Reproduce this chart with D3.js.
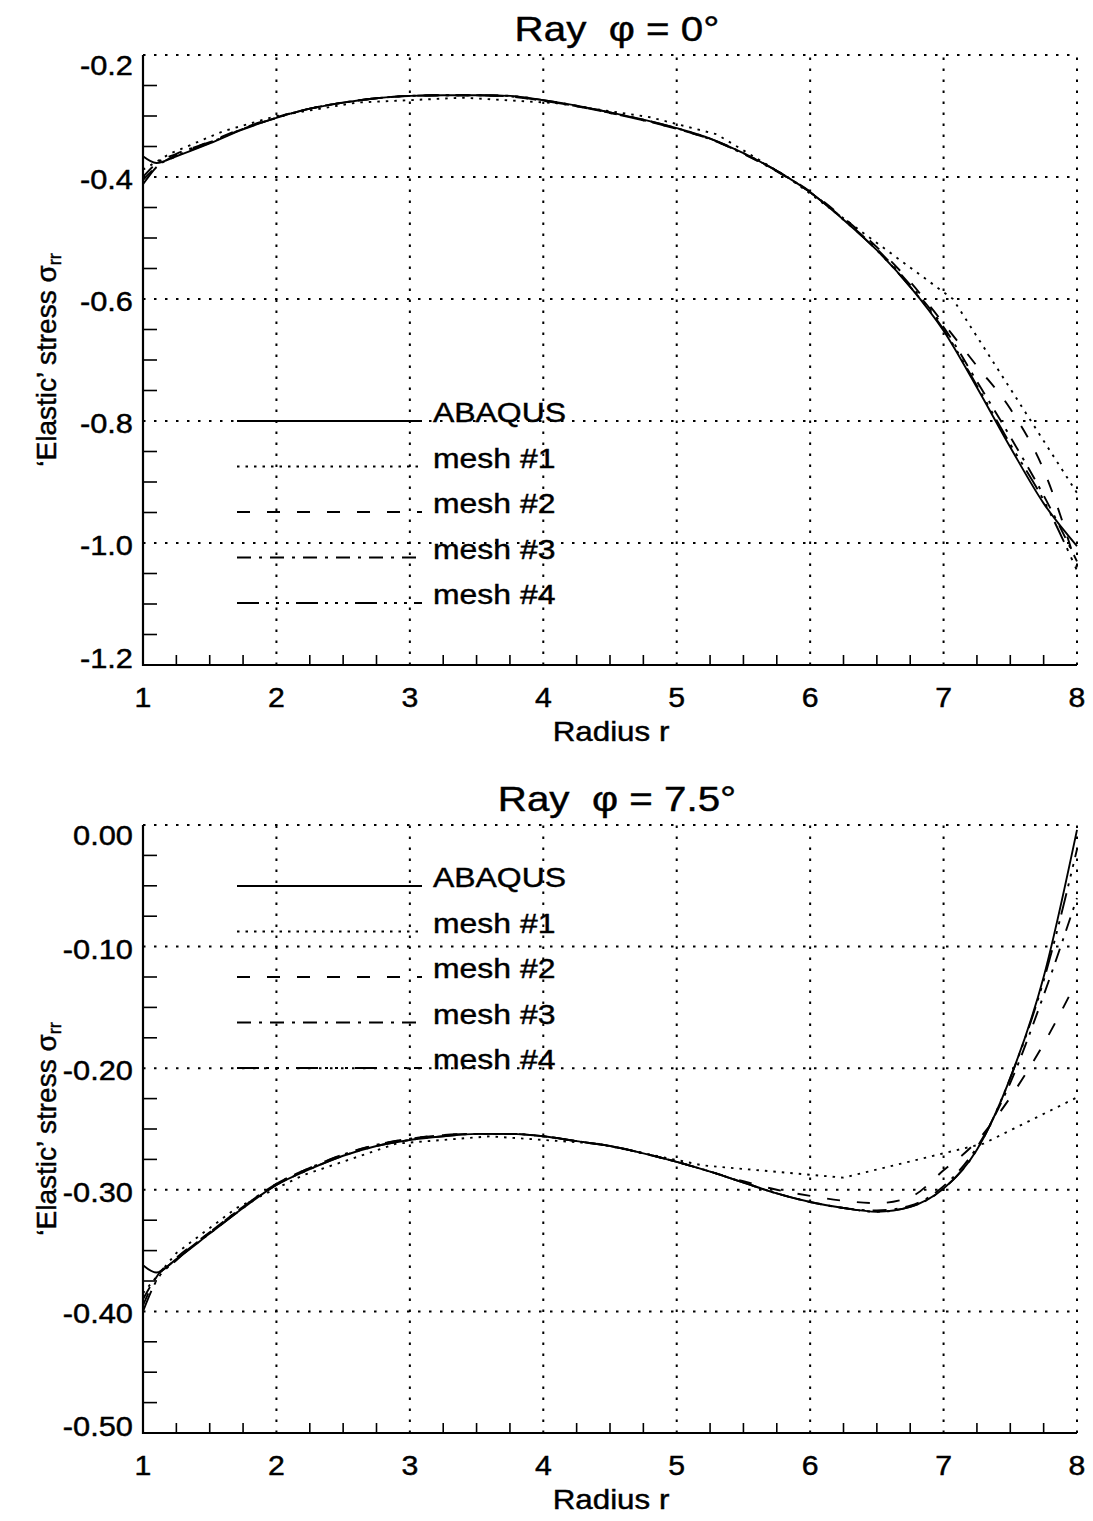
<!DOCTYPE html>
<html>
<head>
<meta charset="utf-8">
<script src="https://d3js.org/d3.v7.min.js"></script>
<style>
  body { margin: 0; background: #fff; }
  svg { display: block; font-family: "Liberation Sans", Arial, Helvetica, sans-serif; }
  .curve { fill: none; stroke: #000; stroke-width: 1.9; stroke-linejoin: round; }
  .grid { stroke: #000; stroke-width: 2; stroke-dasharray: 2.5 8.5; fill: none; }
  .axis-line { stroke: #000; stroke-width: 2.2; }
  .minor { stroke: #000; stroke-width: 1.6; }
  text { fill: #000; stroke: #000; stroke-width: 0.45; }
</style>
</head>
<body>
<svg id="chart" width="1093" height="1521"></svg>
<script>
// radius grid shared by the smooth series
const radius = [1, 1.1, 1.25, 1.5, 1.75, 2, 2.25, 2.5, 2.75, 3, 3.25, 3.5, 3.75, 4, 4.25, 4.5,
                4.75, 5, 5.25, 5.5, 5.75, 6, 6.25, 6.5, 6.75, 7, 7.25, 7.5, 7.75, 8];

// ---- Ray phi = 0 ----
const top_abaqus = [-0.366,-0.377,-0.366,-0.345,-0.322,-0.303,-0.288,-0.278,-0.271,-0.267,-0.266,-0.266,-0.267,-0.274,-0.283,-0.294,
                    -0.306,-0.320,-0.337,-0.361,-0.390,-0.425,-0.470,-0.520,-0.580,-0.652,-0.745,-0.843,-0.935,-1.005];
const top_mesh2  = [-0.405,-0.383,-0.364,-0.342,-0.320,-0.302,-0.288,-0.278,-0.271,-0.267,-0.266,-0.266,-0.268,-0.275,-0.284,-0.295,
                    -0.307,-0.321,-0.338,-0.362,-0.390,-0.424,-0.467,-0.515,-0.572,-0.640,-0.710,-0.780,-0.880,-1.040];
const top_mesh3  = [-0.400,-0.378,-0.362,-0.343,-0.321,-0.303,-0.288,-0.278,-0.271,-0.267,-0.266,-0.266,-0.268,-0.275,-0.284,-0.295,
                    -0.307,-0.321,-0.338,-0.362,-0.391,-0.425,-0.469,-0.518,-0.577,-0.646,-0.735,-0.826,-0.922,-1.030];
const top_mesh4  = [-0.412,-0.384,-0.366,-0.344,-0.321,-0.303,-0.288,-0.278,-0.271,-0.267,-0.266,-0.266,-0.267,-0.274,-0.283,-0.294,
                    -0.306,-0.320,-0.337,-0.361,-0.390,-0.425,-0.470,-0.520,-0.580,-0.650,-0.742,-0.838,-0.930,-1.045];
// coarse mesh #1 (its own nodes, straight segments)
const top_mesh1_r = [1, 1.2, 1.6, 2, 2.6, 3.4, 4.1, 4.8, 5.3, 5.83, 7.07, 8];
const top_mesh1   = [-0.388,-0.362,-0.325,-0.300,-0.278,-0.270,-0.279,-0.302,-0.330,-0.400,-0.600,-0.918];

// ---- Ray phi = 7.5 ----
const bot_abaqus = [-0.362,-0.368,-0.357,-0.336,-0.315,-0.296,-0.283,-0.272,-0.264,-0.259,-0.256,-0.254,-0.254,-0.256,-0.260,-0.264,
                    -0.270,-0.277,-0.285,-0.294,-0.303,-0.310,-0.315,-0.318,-0.314,-0.299,-0.267,-0.208,-0.125,-0.004];
const bot_mesh2  = [-0.395,-0.372,-0.356,-0.335,-0.314,-0.295,-0.282,-0.271,-0.263,-0.258,-0.255,-0.254,-0.254,-0.256,-0.260,-0.264,
                    -0.270,-0.277,-0.285,-0.293,-0.300,-0.305,-0.309,-0.311,-0.306,-0.284,-0.260,-0.224,-0.180,-0.128];
const bot_mesh3  = [-0.390,-0.372,-0.357,-0.335,-0.314,-0.295,-0.282,-0.271,-0.263,-0.258,-0.255,-0.254,-0.254,-0.256,-0.260,-0.264,
                    -0.270,-0.277,-0.285,-0.294,-0.303,-0.310,-0.315,-0.317,-0.313,-0.297,-0.265,-0.212,-0.140,-0.060];
const bot_mesh4  = [-0.400,-0.375,-0.358,-0.336,-0.315,-0.296,-0.283,-0.272,-0.264,-0.259,-0.256,-0.254,-0.254,-0.256,-0.260,-0.264,
                    -0.270,-0.277,-0.285,-0.294,-0.303,-0.310,-0.315,-0.318,-0.314,-0.299,-0.267,-0.208,-0.128,-0.020];
const bot_mesh1_r = [1, 1.25, 1.7, 2.2, 2.9, 3.6, 4.4, 5.2, 6.25, 7.3, 8];
const bot_mesh1   = [-0.385,-0.352,-0.315,-0.288,-0.262,-0.256,-0.262,-0.280,-0.290,-0.262,-0.224];

const seriesNames = ["ABAQUS", "mesh #1", "mesh #2", "mesh #3", "mesh #4"];
const dashes = [null, "2.5 6", "13 17", "14 8 3 8", "22 7 3 7 3 7 3 7"];

const xTicks = [1, 2, 3, 4, 5, 6, 7, 8];
const topYTicks = [-1.2, -1.0, -0.8, -0.6, -0.4, -0.2];
const topYLabels = ["-1.2", "-1.0", "-0.8", "-0.6", "-0.4", "-0.2"];
const botYTicks = [-0.5, -0.4, -0.3, -0.2, -0.1, 0];
const botYLabels = ["-0.50", "-0.40", "-0.30", "-0.20", "-0.10", "0.00"];

const svg = d3.select("#chart");
const left = 143, right = 1077;
const widen = 1.12;   // lettering in the original is a little wider than Liberation Sans

function zip(xs, ys) { return xs.map((r, i) => [r, ys[i]]); }

// text placed at (x, y) and stretched horizontally about its anchor
function label(g, x, y, str, size, anchor) {
  return g.append("text")
    .attr("transform", `translate(${x},${y}) scale(${widen},1)`)
    .attr("text-anchor", anchor || "start")
    .attr("font-size", size)
    .style("white-space", "pre")
    .text(str);
}

function panel(opt) {
  const x = d3.scaleLinear().domain([1, 8]).range([left, right]);
  const y = d3.scaleLinear().domain(opt.yDomain).range([opt.bottom, opt.top]);
  const g = svg.append("g");

  // dotted grid at the major values (includes the top and right edges)
  g.selectAll(".gx").data(xTicks.slice(1)).join("line").attr("class", "grid")
    .attr("x1", d => x(d)).attr("x2", d => x(d)).attr("y1", opt.bottom).attr("y2", opt.top);
  g.selectAll(".gy").data(opt.yTicks.slice(1)).join("line").attr("class", "grid")
    .attr("y1", d => y(d)).attr("y2", d => y(d)).attr("x1", left).attr("x2", right);

  // minor ticks, pointing inward
  const xMinor = d3.range(1, 8.001, 0.25).filter(v => Math.abs(v - Math.round(v)) > 0.01);
  g.selectAll(".mx").data(xMinor).join("line").attr("class", "minor")
    .attr("x1", d => x(d)).attr("x2", d => x(d)).attr("y1", opt.bottom).attr("y2", opt.bottom - 10);
  const yMinor = d3.range(opt.yDomain[0], opt.yDomain[1] + 1e-9, opt.minorStep)
    .filter(v => opt.yTicks.every(t => Math.abs(t - v) > 1e-6));
  g.selectAll(".my").data(yMinor).join("line").attr("class", "minor")
    .attr("y1", d => y(d)).attr("y2", d => y(d)).attr("x1", left).attr("x2", left + 14);

  g.append("line").attr("class", "axis-line").attr("x1", left).attr("x2", left).attr("y1", opt.top).attr("y2", opt.bottom + 1);
  g.append("line").attr("class", "axis-line").attr("x1", left - 1).attr("x2", right).attr("y1", opt.bottom).attr("y2", opt.bottom);

  // tick labels
  xTicks.forEach(d => label(g, x(d), opt.bottom + 42, String(d), 27, "middle"));
  const n = opt.yTicks.length;
  opt.yTicks.forEach((d, i) => {
    let shift = 12;
    if (i === 0) shift = 3;          // lowest label sits just above the axis
    if (i === n - 1) shift = 20;     // top label sits just below the frame
    label(g, 133, y(d) + shift, opt.yLabels[i], 27.5, "end");
  });

  // titles
  label(g, 617, opt.top - 14, "Ray  \u03c6 = " + opt.angle + "\u00b0", 36, "middle");
  label(g, 611, opt.bottom + 76, "Radius r", 28, "middle");
  const yl = g.append("text")
    .attr("transform", `translate(56,${(opt.top + opt.bottom) / 2}) rotate(-90)`)
    .attr("text-anchor", "middle").attr("font-size", 28);
  yl.append("tspan").text("\u2018Elastic\u2019 stress \u03c3");
  yl.append("tspan").attr("font-size", 18).attr("dy", 5).text("rr");

  // curves
  const smooth = d3.line().x(d => x(d[0])).y(d => y(d[1])).curve(d3.curveMonotoneX);
  const straight = d3.line().x(d => x(d[0])).y(d => y(d[1]));
  const data = [
    { pts: zip(radius, opt.abaqus), gen: smooth },
    { pts: zip(opt.mesh1R, opt.mesh1), gen: straight },
    { pts: zip(radius, opt.mesh2), gen: smooth },
    { pts: zip(radius, opt.mesh3), gen: smooth },
    { pts: zip(radius, opt.mesh4), gen: smooth }
  ];
  data.forEach((s, i) => {
    g.append("path").attr("class", "curve").attr("d", s.gen(s.pts))
      .attr("stroke-dasharray", dashes[i]);
  });

  // legend
  seriesNames.forEach((name, i) => {
    const ly = opt.legendTop + i * 45.5;
    g.append("line").attr("class", "curve").attr("x1", 237).attr("x2", 422)
      .attr("y1", ly).attr("y2", ly).attr("stroke-dasharray", dashes[i]);
    label(g, 433, ly + 1, name, 28.5, "start");
  });
}

panel({
  top: 55, bottom: 665, yDomain: [-1.2, -0.2], yTicks: topYTicks, yLabels: topYLabels, minorStep: 0.05,
  angle: "0", abaqus: top_abaqus, mesh1R: top_mesh1_r, mesh1: top_mesh1,
  mesh2: top_mesh2, mesh3: top_mesh3, mesh4: top_mesh4, legendTop: 421
});
panel({
  top: 825, bottom: 1433, yDomain: [-0.5, 0], yTicks: botYTicks, yLabels: botYLabels, minorStep: 0.025,
  angle: "7.5", abaqus: bot_abaqus, mesh1R: bot_mesh1_r, mesh1: bot_mesh1,
  mesh2: bot_mesh2, mesh3: bot_mesh3, mesh4: bot_mesh4, legendTop: 886
});
</script>
</body>
</html>
